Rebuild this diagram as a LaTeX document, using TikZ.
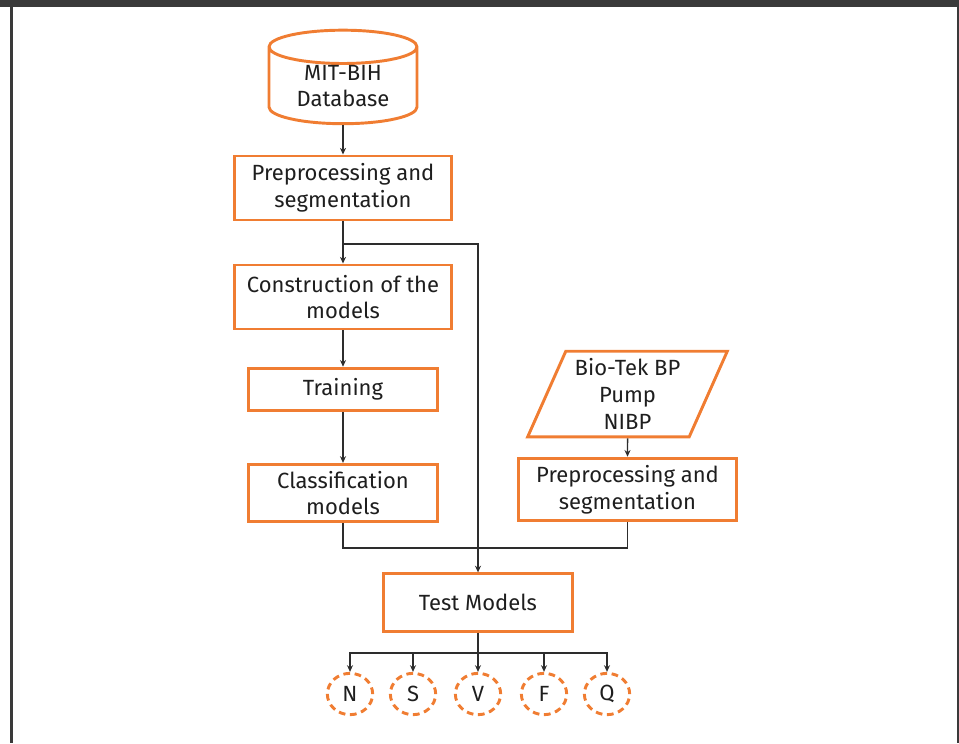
\documentclass[tikz,border=0pt]{standalone}
\usepackage{fontspec}
\setmainfont{Fira Sans}
\usetikzlibrary{shapes.geometric,arrows.meta}

\definecolor{flowOrange}{RGB}{240,125,50}
\definecolor{lineGray}{RGB}{45,45,45}
\definecolor{textGray}{RGB}{30,30,30}
\definecolor{frameGray}{RGB}{58,58,58}

\begin{document}
\begin{tikzpicture}[x=0.75pt, y=-0.75pt,
  main node/.style={draw=flowOrange, line width=2.2pt, rectangle, align=center,
    text=textGray, font=\fontsize{16.5}{20}\selectfont},
  data node/.style={main node, cylinder, shape border rotate=90, aspect=0.36, inner sep=0pt},
  input node/.style={main node, trapezium, trapezium left angle=66, trapezium right angle=114},
  class node/.style={main node, ellipse, dash pattern=on 5pt off 3.5pt,
    minimum width=34pt, minimum height=31pt, inner sep=0pt},
  link/.style={draw=lineGray, line width=1.1pt},
  >={Stealth[length=5pt,width=4.5pt]}]
\useasboundingbox (0,0) rectangle (959,743);
\fill[frameGray] (0,0) rectangle (959,7);
\fill[frameGray] (10,7) rectangle (13,743);
\fill[frameGray] (957,7) rectangle (959,743);

\node[data node, minimum width=111pt, minimum height=62pt] (db) at (343,86) {MIT-BIH\\Database};
\node[main node, minimum width=163pt, minimum height=48pt] (prepA) at (343,188) {Preprocessing and\\segmentation};
\node[main node, minimum width=163pt, minimum height=48pt] (constr) at (343,297) {Construction of the\\models};
\node[main node, minimum width=142pt, minimum height=32pt] (train) at (343,389.5) {Training};
\node[main node, minimum width=142pt, minimum height=43pt] (classif) at (343,493) {Classification\\models};
\node[input node, minimum width=150pt, minimum height=57pt] (bio) at (627.5,394) {Bio-Tek BP\\Pump\\NIBP};
\node[main node, minimum width=164pt, minimum height=47pt] (prepB) at (627.5,489.5) {Preprocessing and\\segmentation};
\node[main node, minimum width=142pt, minimum height=43pt] (test) at (478,602.5) {Test Models};

\node[class node] (cN) at (350,694) {N};
\node[class node] (cS) at (413,694) {S};
\node[class node] (cV) at (478,694) {V};
\node[class node] (cF) at (544,694) {F};
\node[class node] (cQ) at (607,694) {Q};

\coordinate (fork) at (343,244);
\coordinate (join) at (478,548);
\coordinate (bus) at (478,653);

\path[link,->]
(db)     edge (prepA)
(prepA)  edge (constr)
(constr) edge (train)
(train)  edge (classif)
(bio)    edge (prepB);
\draw[link,->] (fork) -| (test);
\draw[link] (classif) |- (join) -| (prepB);
\draw[link] (test) -- (bus);
\foreach \c in {cN,cS,cV,cF,cQ}
  \draw[link,->] (bus) -| (\c);
\end{tikzpicture}
\end{document}
